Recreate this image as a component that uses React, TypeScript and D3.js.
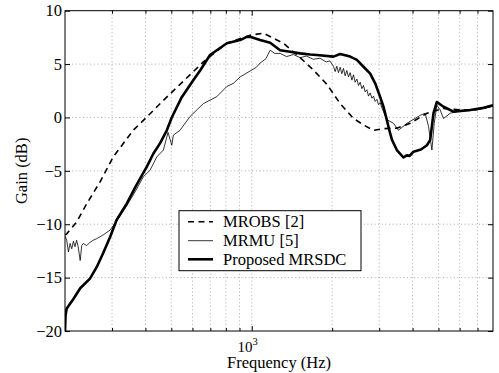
import * as d3 from 'd3';
import { useEffect, useRef } from 'react';

// MROBS [2] (dashed)
const freqObs = [200, 203, 221, 241, 271, 303, 360, 405, 467, 539, 659, 807, 986, 1106, 1242, 1314, 1518, 1702, 1911, 2143, 2404, 2620, 2856, 3113, 3493, 3918, 4526, 5222, 6574, 7374, 8000];
const gainObs = [-11, -10.9, -9.8, -8.1, -6.0, -3.7, -1.2, 0.05, 1.6, 3.1, 5.2, 6.95, 7.7, 7.9, 7.25, 6.95, 5.6, 4.45, 3.1, 1.3, -0.1, -0.7, -1.2, -1.05, -1.0, -0.55, 0.4, 0.85, 0.65, 0.85, 1.1];

// MRMU [5] (thin)
const freqMu = [200, 203, 206, 209, 212, 215, 218, 221, 224, 228, 231, 234, 241, 248, 255, 263, 278, 295, 312, 340, 371, 393, 416, 441, 467, 486, 502, 509, 539, 588, 659, 740, 807, 854, 905, 986, 1040, 1075, 1130, 1172, 1220, 1277, 1350, 1432, 1518, 1600, 1700, 1800, 1900, 1960, 2023, 2052, 2082, 2111, 2143, 2174, 2205, 2237, 2270, 2302, 2336, 2371, 2404, 2439, 2475, 2510, 2547, 2584, 2620, 2658, 2698, 2735, 2776, 2817, 2856, 2898, 2941, 2982, 3026, 3070, 3205, 3393, 3542, 3809, 4272, 4460, 4589, 4725, 4820, 4932, 5075, 5222, 5535, 5862, 6574, 7374, 8000];
const gainMu = [-11.1, -11.5, -12.6, -11.8, -12.3, -11.6, -12.1, -11.5, -12.1, -13.4, -12.0, -11.8, -12.0, -11.7, -11.5, -11.35, -11.0, -10.55, -9.7, -8.3, -6.7, -5.55, -4.95, -3.7, -3.05, -1.4, -2.6, -1.65, -1.2, 0.1, 1.3, 1.95, 2.9, 3.2, 3.8, 4.35, 4.7, 5.1, 5.5, 6.3, 6.0, 6.0, 5.7, 5.9, 5.6, 5.75, 5.45, 5.55, 5.2, 5.3, 4.8, 4.3, 4.8, 4.2, 4.7, 4.1, 4.6, 3.9, 4.4, 3.8, 4.2, 3.5, 4.0, 3.3, 3.6, 3.0, 3.3, 2.7, 3.0, 2.4, 2.6, 2.0, 2.3, 1.8, 2.0, 1.5, 1.7, 1.2, 1.4, 0.9, -0.2, -0.55, -1.2, -0.55, 0.2, 0.4, -0.85, -3.05, -0.55, 1.15, 0.7, -0.1, 0.4, 0.55, 0.65, 0.85, 1.05];

// Proposed MRSDC (thick)
const freqProp = [200, 201, 203, 215, 228, 248, 263, 278, 295, 312, 340, 371, 405, 428, 454, 481, 502, 547, 605, 641, 698, 807, 905, 958, 986, 1075, 1172, 1277, 1392, 1518, 1654, 1753, 2023, 2143, 2336, 2475, 2620, 2776, 2898, 3026, 3113, 3205, 3297, 3350, 3493, 3698, 3800, 3900, 4031, 4300, 4526, 4656, 4791, 4932, 5222, 5694, 6574, 7374, 8000];
const gainProp = [-20, -18.5, -17.9, -17.0, -16.0, -15.1, -14.0, -12.7, -11.2, -9.6, -8.1, -6.3, -4.6, -3.4, -2.4, -1.2, 0.0, 1.9, 3.5, 4.4, 5.85, 6.95, 7.25, 7.55, 7.55, 7.25, 7.0, 6.3, 6.15, 6.0, 5.9, 5.85, 5.7, 5.95, 5.7, 5.4, 4.75, 4.1, 3.2, 1.9, 1.0, -0.25, -1.5, -2.1, -3.05, -3.75, -3.55, -3.6, -3.2, -3.0, -2.6, -2.1, 0.4, 1.45, 1.0, 0.55, 0.7, 0.9, 1.15];

const yTicks = [-20, -15, -10, -5, 0, 5, 10];
const minorFreqs = [300, 400, 500, 600, 700, 800, 900, 2000, 3000, 4000, 5000, 6000, 7000];
const legendLabels = ['MROBS [2]', 'MRMU [5]', 'Proposed MRSDC'];

const FONT = "'Liberation Serif', 'Times New Roman', Times, serif";

const App = () => {
  const ref = useRef<HTMLDivElement>(null);

  useEffect(() => {
    const width = 499;
    const height = 373;
    const left = 65;
    const right = 493;
    const top = 10.7;
    const bottom = 331;

    const xScale = d3.scaleLog().domain([200, 8000]).range([left, right]);
    const yScale = d3.scaleLinear().domain([-20, 10]).range([bottom, top]);

    ref.current!.innerHTML = '';
    const svg = d3.select(ref.current).append('svg')
      .attr('width', width).attr('height', height)
      .attr('viewBox', [0, 0, width, height])
      .style('display', 'block')
      .style('background', '#fff');

    svg.append('defs').append('clipPath').attr('id', 'plot-clip')
      .append('rect').attr('x', left).attr('y', top)
      .attr('width', right - left).attr('height', bottom - top);

    // grid
    const grid = svg.append('g').attr('stroke', '#888').attr('stroke-width', 0.7).attr('stroke-dasharray', '1,2.6');
    grid.selectAll('line.v').data([...minorFreqs, 1000]).join('line')
      .attr('x1', (d) => xScale(d)).attr('x2', (d) => xScale(d))
      .attr('y1', top).attr('y2', bottom);
    grid.selectAll('line.h').data(yTicks.slice(1, -1)).join('line')
      .attr('x1', left).attr('x2', right)
      .attr('y1', (d) => yScale(d)).attr('y2', (d) => yScale(d));

    // curves
    const line = d3.line<[number, number]>()
      .x((d) => xScale(d[0]))
      .y((d) => yScale(d[1]));
    const plot = svg.append('g').attr('clip-path', 'url(#plot-clip)').attr('fill', 'none').attr('stroke', '#000');
    plot.append('path').attr('d', line(d3.zip(freqMu, gainMu) as [number, number][]))
      .attr('stroke-width', 0.8).attr('stroke-linejoin', 'round');
    plot.append('path').attr('d', line(d3.zip(freqObs, gainObs) as [number, number][]))
      .attr('stroke-width', 1.6).attr('stroke-dasharray', '6,4.5');
    plot.append('path').attr('d', line(d3.zip(freqProp, gainProp) as [number, number][]))
      .attr('stroke-width', 2.6).attr('stroke-linejoin', 'round');

    // axes
    const yAxisL = d3.axisLeft(yScale).tickValues(yTicks).tickSize(-5).tickPadding(3);
    svg.append('g').attr('transform', `translate(${left},0)`).call(yAxisL)
      .call((g) => g.select('.domain').remove())
      .call((g) => g.selectAll('.tick text').attr('font-size', 16.5).attr('font-family', FONT).attr('fill', '#000'));
    const yAxisR = d3.axisRight(yScale).tickValues(yTicks).tickSize(-5).tickFormat(() => '');
    svg.append('g').attr('transform', `translate(${right},0)`).call(yAxisR)
      .call((g) => g.select('.domain').remove());

    const xMajorB = d3.axisBottom(xScale).tickValues([1000]).tickSize(-5).tickFormat(() => '');
    const xMinorB = d3.axisBottom(xScale).tickValues(minorFreqs).tickSize(-3).tickFormat(() => '');
    const xMajorT = d3.axisTop(xScale).tickValues([1000]).tickSize(-5).tickFormat(() => '');
    const xMinorT = d3.axisTop(xScale).tickValues(minorFreqs).tickSize(-3).tickFormat(() => '');
    [xMajorB, xMinorB].forEach((ax) => {
      svg.append('g').attr('transform', `translate(0,${bottom})`).call(ax).call((g) => g.select('.domain').remove());
    });
    [xMajorT, xMinorT].forEach((ax) => {
      svg.append('g').attr('transform', `translate(0,${top})`).call(ax).call((g) => g.select('.domain').remove());
    });

    svg.append('rect').attr('x', left).attr('y', top)
      .attr('width', right - left).attr('height', bottom - top)
      .attr('fill', 'none').attr('stroke', '#000').attr('stroke-width', 1);

    // 10^3 label
    const lbl = svg.append('text').attr('font-family', FONT).attr('fill', '#000')
      .attr('x', xScale(1000) - 4).attr('y', 351.5).attr('text-anchor', 'middle').attr('font-size', 15);
    lbl.append('tspan').text('10');
    lbl.append('tspan').attr('font-size', 10.5).attr('dy', -7).text('3');

    svg.append('text').attr('font-family', FONT).attr('font-size', 16.5).attr('fill', '#000')
      .attr('x', (left + right) / 2).attr('y', 368).attr('text-anchor', 'middle')
      .text('Frequency (Hz)');
    svg.append('text').attr('font-family', FONT).attr('font-size', 16.5).attr('fill', '#000')
      .attr('transform', `translate(27,${(top + bottom) / 2}) rotate(-90)`)
      .attr('text-anchor', 'middle')
      .text('Gain (dB)');

    // legend
    const lg = svg.append('g').attr('transform', 'translate(179,210.7)');
    lg.append('rect').attr('width', 182).attr('height', 60)
      .attr('fill', '#fff').attr('stroke', '#000').attr('stroke-width', 1);
    const rowY = [11, 30, 48.6];
    const styles = [
      { w: 1.6, dash: '6,4.5' },
      { w: 0.8, dash: null },
      { w: 2.6, dash: null },
    ];
    legendLabels.forEach((t, i) => {
      lg.append('line').attr('x1', 9).attr('x2', 34).attr('y1', rowY[i]).attr('y2', rowY[i])
        .attr('stroke', '#000').attr('stroke-width', styles[i].w)
        .attr('stroke-dasharray', styles[i].dash);
      lg.append('text').attr('x', 44).attr('y', rowY[i] + 5.3)
        .attr('font-family', FONT).attr('font-size', 16.5).attr('fill', '#000')
        .text(t);
    });
  }, []);

  return <div ref={ref} style={{ position: 'absolute', left: 0, top: 0 }} />;
};

export default App;
